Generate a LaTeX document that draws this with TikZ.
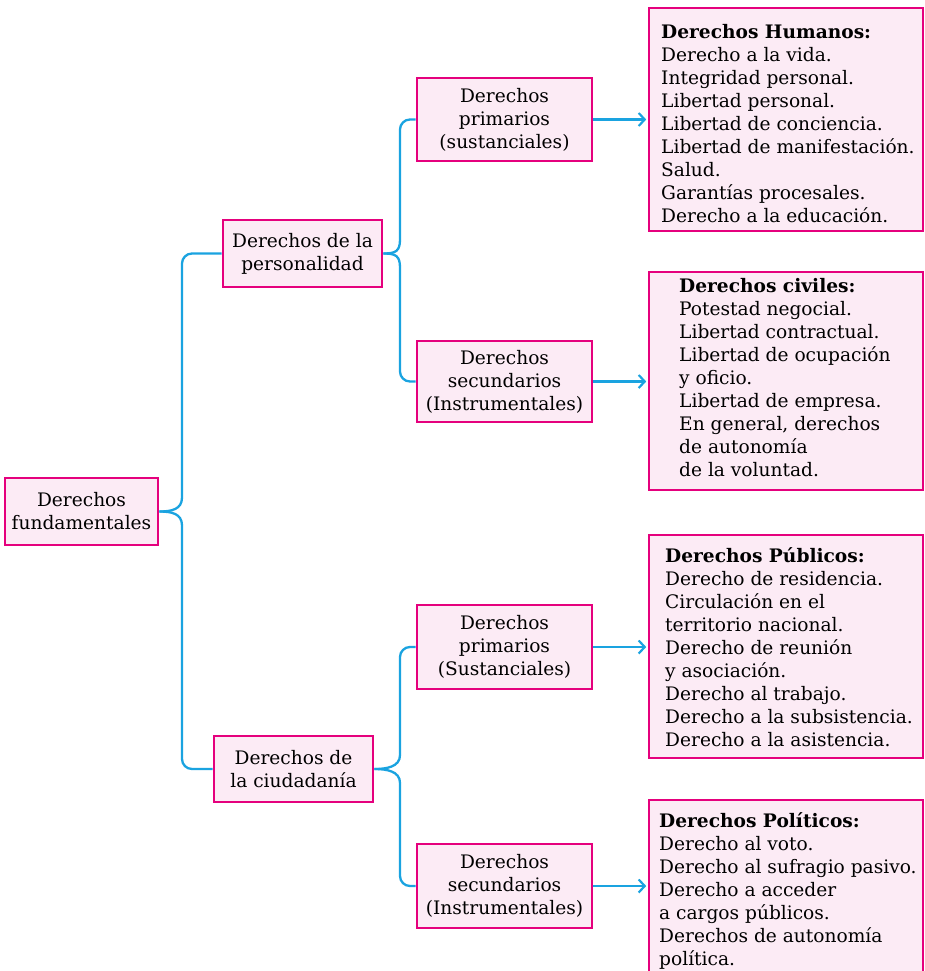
\documentclass[tikz,border=0pt]{standalone}
\usepackage{fontspec}
\setmainfont{DejaVu Serif}
\usetikzlibrary{arrows.meta,calc}
\definecolor{mag}{HTML}{E5007D}
\definecolor{pinkfill}{HTML}{FCEBF5}
\definecolor{cyanl}{HTML}{1AA3E0}
\begin{document}
\begin{tikzpicture}[x=1pt,y=-1pt,
  font=\fontsize{18.6}{23}\selectfont,
  box/.style={draw=mag, fill=pinkfill, line width=2.6pt, inner sep=0pt, align=center},
  txt/.style={align=left, inner sep=0pt, anchor=west},
  conn/.style={draw=cyanl, line width=2.3pt},
  arr/.style={conn, shorten >=1.5pt, -{Straight Barb[length=6pt,width=13pt,line width=2.2pt]}}]
\useasboundingbox (0,0) rectangle (924,971);
\clip (0,0) rectangle (924,971);

% small boxes
\node[box, minimum width=153pt, minimum height=67pt] (fund) at (81.5,511.5) {Derechos\\fundamentales};
\node[box, minimum width=159pt, minimum height=67pt] (pers) at (302.5,253.5) {Derechos de la\\personalidad};
\node[box, minimum width=159pt, minimum height=66pt] (ciud) at (293.5,769) {Derechos de\\la ciudadanía};
\node[box, minimum width=175pt, minimum height=83pt] (p1) at (504.5,119.5) {Derechos\\primarios\\(sustanciales)};
\node[box, minimum width=175pt, minimum height=81pt] (s1) at (504.5,381.5) {Derechos\\secundarios\\(Instrumentales)};
\node[box, minimum width=175pt, minimum height=84pt] (p2) at (504.5,647) {Derechos\\primarios\\(Sustanciales)};
\node[box, minimum width=175pt, minimum height=84pt] (s2) at (504.5,886) {Derechos\\secundarios\\(Instrumentales)};

% big boxes
\node[box, minimum width=274pt, minimum height=223pt] (hum) at (786,119.5) {};
\node[txt] (humt) at (661,123.5) {\textbf{Derechos Humanos:}\\Derecho a la vida.\\Integridad personal.\\Libertad personal.\\Libertad de conciencia.\\Libertad de manifestación.\\Salud.\\Garantías procesales.\\Derecho a la educación.};
\node[box, minimum width=274pt, minimum height=218pt] (civ) at (786,381) {};
\node[txt] (civt) at (679,377.5) {\textbf{Derechos civiles:}\\Potestad negocial.\\Libertad contractual.\\Libertad de ocupación\\y oficio.\\Libertad de empresa.\\En general, derechos\\de autonomía\\de la voluntad.};
\node[box, minimum width=274pt, minimum height=223pt] (pub) at (786,646.5) {};
\node[txt] (pubt) at (665,647.5) {\textbf{Derechos Públicos:}\\Derecho de residencia.\\Circulación en el\\territorio nacional.\\Derecho de reunión\\y asociación.\\Derecho al trabajo.\\Derecho a la subsistencia.\\Derecho a la asistencia.};
\node[box, minimum width=274pt, minimum height=190pt] (pol) at (786,895) {};
\node[txt] (polt) at (659,890.5) {\textbf{Derechos Políticos:}\\Derecho al voto.\\Derecho al sufragio pasivo.\\Derecho a acceder\\a cargos públicos.\\Derechos de autonomía\\política.};

% spines
\coordinate (sp1) at (182,0);
\coordinate (sp2) at (400,0);

% brace level 1
\draw[conn] (fund.east) .. controls +(12,0) and +(0,12) .. ($(fund.east -| sp1)+(0,-14)$)
  [rounded corners=10pt] -- (pers.west -| sp1) -- (pers.west);
\draw[conn] (fund.east) .. controls +(12,0) and +(0,-12) .. ($(fund.east -| sp1)+(0,14)$)
  [rounded corners=10pt] -- (ciud.west -| sp1) -- (ciud.west);

% brace level 2 (personalidad)
\draw[conn] (pers.east) .. controls +(12,0) and +(0,12) .. ($(pers.east -| sp2)+(0,-14)$)
  [rounded corners=10pt] -- (p1.west -| sp2) -- (p1.west);
\draw[conn] (pers.east) .. controls +(12,0) and +(0,-12) .. ($(pers.east -| sp2)+(0,14)$)
  [rounded corners=10pt] -- (s1.west -| sp2) -- (s1.west);

% brace level 2 (ciudadania)
\draw[conn] (ciud.east) .. controls +(12,0) and +(0,12) .. ($(ciud.east -| sp2)+(0,-14)$)
  [rounded corners=10pt] -- (p2.west -| sp2) -- (p2.west);
\draw[conn] (ciud.east) .. controls +(12,0) and +(0,-12) .. ($(ciud.east -| sp2)+(0,14)$)
  [rounded corners=10pt] -- (s2.west -| sp2) -- (s2.west);

% arrows
\draw[arr] (p1.east) -- (p1.east -| hum.west);
\draw[arr] (s1.east) -- (s1.east -| civ.west);
\draw[arr] (p2.east) -- (p2.east -| pub.west);
\draw[arr] (s2.east) -- (s2.east -| pol.west);
\end{tikzpicture}
\end{document}
